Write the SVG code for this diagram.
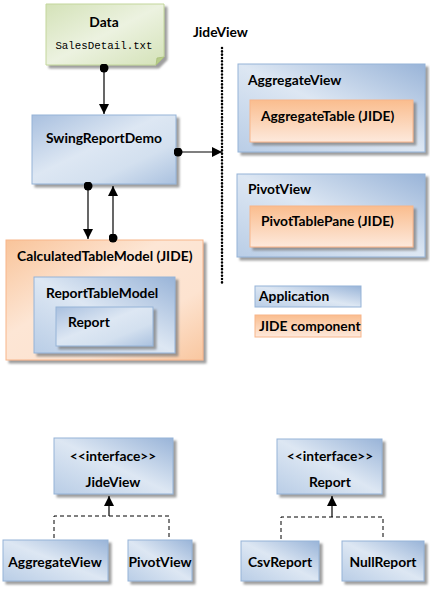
<svg xmlns="http://www.w3.org/2000/svg" width="430" height="603" viewBox="0 0 430 603">
<defs>
<linearGradient id="gBlue" x1="0" y1="0" x2="1" y2="1">
<stop offset="0" stop-color="#a9c0df"/>
<stop offset="0.45" stop-color="#dde7f3"/>
<stop offset="0.7" stop-color="#d3e0ef"/>
<stop offset="1" stop-color="#aac1df"/>
</linearGradient>
<linearGradient id="gBlue2" x1="0" y1="1" x2="1" y2="0">
<stop offset="0" stop-color="#b9cde6"/>
<stop offset="0.5" stop-color="#dde7f3"/>
<stop offset="1" stop-color="#99b4d8"/>
</linearGradient>
<linearGradient id="gOrange" x1="0" y1="0" x2="1" y2="1">
<stop offset="0" stop-color="#f9c49a"/>
<stop offset="0.4" stop-color="#fde6d5"/>
<stop offset="0.7" stop-color="#fde3d0"/>
<stop offset="1" stop-color="#f9c7a0"/>
</linearGradient>
<linearGradient id="gOrange2" x1="0" y1="0" x2="0" y2="1">
<stop offset="0" stop-color="#fabd8e"/>
<stop offset="1" stop-color="#fde9dc"/>
</linearGradient>
<linearGradient id="gGreen" x1="0" y1="0" x2="1" y2="1">
<stop offset="0" stop-color="#d4e2b8"/>
<stop offset="0.5" stop-color="#ecf2e0"/>
<stop offset="1" stop-color="#d4e2b8"/>
</linearGradient>
<filter id="sh" x="-10%" y="-10%" width="130%" height="130%">
<feDropShadow dx="3" dy="3" stdDeviation="0.8" flood-color="#7f7f7f" flood-opacity="0.75"/>
</filter>
<marker id="arr" viewBox="0 0 10 10" refX="10" refY="5" markerWidth="10" markerHeight="10" markerUnits="userSpaceOnUse" orient="auto">
<path d="M0,0 L10,5 L0,10 z" fill="#000"/>
</marker>
<marker id="dot" viewBox="0 0 10 10" refX="5" refY="5" markerWidth="9" markerHeight="9" markerUnits="userSpaceOnUse">
<circle cx="5" cy="5" r="5" fill="#000"/>
</marker>
</defs>
<style>
.b{fill:url(#gBlue);stroke:#95b3d7;stroke-width:1;filter:url(#sh)}
.b2{fill:url(#gBlue2);stroke:#95b3d7;stroke-width:1;filter:url(#sh)}
.o{fill:url(#gOrange);stroke:#f7b58a;stroke-width:1;filter:url(#sh)}
.o2{fill:url(#gOrange2);stroke:#f7b58a;stroke-width:1;filter:url(#sh)}
.lb{fill:url(#gBlue2);stroke:#95b3d7;stroke-width:1}
.lo{fill:url(#gOrange2);stroke:#f7b58a;stroke-width:1}
text{font-family:Lato,"Liberation Sans",sans-serif;font-weight:bold;font-size:13.8px;fill:#000}
.m{font-family:"Liberation Mono",monospace;font-weight:normal;font-size:10.8px}
.c{text-anchor:middle}
.ln{fill:none;stroke:#000;stroke-width:1.2}
.dash{fill:none;stroke:#000;stroke-width:1;stroke-dasharray:4,3}
</style>

<g id="data">
<path d="M46,4 H164 V57 L156,65 H46 Z" fill="url(#gGreen)" stroke="#c3d69b" filter="url(#sh)"/>
<path d="M164,57 L156,65 L157,58 Z" fill="#b7cc8a" stroke="#a9bf7a" stroke-width="0.8"/>
<text class="c" x="104" y="27">Data</text>
<text class="m c" x="104" y="49">SalesDetail.txt</text>
</g>

<g id="swingReportDemo">
<rect class="b" x="32" y="115" width="144" height="69"/>
<text x="46" y="143">SwingReportDemo</text>
</g>

<text id="jideViewLabel" x="193" y="37">JideView</text>

<g id="aggregateView">
<rect class="b2" x="238" y="64" width="187" height="88"/>
<text x="248" y="85">AggregateView</text>
</g>
<g id="aggregateTable">
<rect class="o2" x="250" y="100" width="163" height="42"/>
<text x="261" y="121">AggregateTable (JIDE)</text>
</g>

<g id="pivotView">
<rect class="b2" x="237" y="174" width="188" height="83"/>
<text x="248" y="194">PivotView</text>
</g>
<g id="pivotTablePane">
<rect class="o2" x="250" y="206" width="163" height="41"/>
<text x="261" y="226">PivotTablePane (JIDE)</text>
</g>

<g id="legendApplication">
<rect class="lb" x="255" y="286" width="106" height="21"/>
<text x="259" y="301">Application</text>
</g>
<g id="legendJide">
<rect class="lo" x="255" y="315" width="106" height="22"/>
<text x="259" y="331">JIDE component</text>
</g>

<g id="calculatedTableModel">
<rect class="o" x="6" y="240" width="197" height="120"/>
<text x="17" y="261">CalculatedTableModel (JIDE)</text>
</g>
<g id="reportTableModel">
<rect class="b2" x="34" y="277" width="141" height="76"/>
<text x="46" y="298">ReportTableModel</text>
</g>
<g id="report">
<rect class="b" x="56" y="307" width="97" height="39"/>
<text x="68" y="327">Report</text>
</g>

<g id="ifaceJideView">
<rect class="b2" x="54" y="438" width="119" height="56"/>
<text class="c" x="113" y="461">&lt;&lt;interface&gt;&gt;</text>
<text class="c" x="113" y="487">JideView</text>
</g>
<g id="implAggregateView">
<rect class="b2" x="3" y="540" width="105" height="41"/>
<text class="c" x="55" y="567">AggregateView</text>
</g>
<g id="implPivotView">
<rect class="b2" x="128" y="540" width="64" height="41"/>
<text class="c" x="160" y="567">PivotView</text>
</g>

<g id="ifaceReport">
<rect class="b2" x="277" y="439" width="105" height="55"/>
<text class="c" x="330" y="461">&lt;&lt;interface&gt;&gt;</text>
<text class="c" x="330" y="487">Report</text>
</g>
<g id="implCsvReport">
<rect class="b2" x="241" y="541" width="78" height="40"/>
<text class="c" x="280" y="567">CsvReport</text>
</g>
<g id="implNullReport">
<rect class="b2" x="342" y="541" width="82" height="40"/>
<text class="c" x="383" y="567">NullReport</text>
</g>

<g id="connectors">
<line class="ln" x1="104" y1="68" x2="104" y2="114" marker-start="url(#dot)" marker-end="url(#arr)"/>
<line class="ln" x1="178" y1="152" x2="222" y2="152" stroke="#444" marker-start="url(#dot)" marker-end="url(#arr)"/>
<line class="ln" x1="88" y1="186" x2="88" y2="239" marker-start="url(#dot)" marker-end="url(#arr)"/>
<line class="ln" x1="113" y1="238" x2="113" y2="186" marker-start="url(#dot)" marker-end="url(#arr)"/>
<line x1="222" y1="48" x2="222" y2="284" stroke="#000" stroke-width="2.5" stroke-dasharray="0.1,3.2" stroke-linecap="round"/>
<path class="dash" d="M54,538 V516 H169 V538"/>
<line class="ln" x1="109" y1="516" x2="109" y2="496" marker-end="url(#arr)"/>
<path class="dash" d="M281,539 V517 H383 V539"/>
<line class="ln" x1="332" y1="517" x2="332" y2="496" marker-end="url(#arr)"/>
</g>
</svg>
